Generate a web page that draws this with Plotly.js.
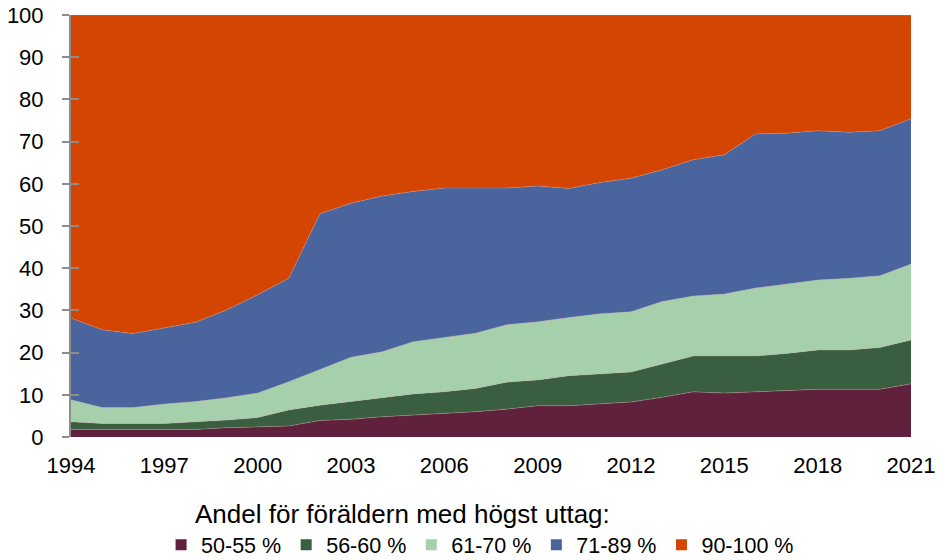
<!DOCTYPE html>
<html>
<head>
<meta charset="utf-8">
<script src="https://cdn.plot.ly/plotly-3.0.1.min.js"></script>
<style>html,body{margin:0;padding:0;background:#fff}#chart{width:938px;height:560px}</style>
</head>
<body>
<div id="chart"></div>
<script>
const years = [1994,1995,1996,1997,1998,1999,2000,2001,2002,2003,2004,2005,2006,2007,2008,2009,2010,2011,2012,2013,2014,2015,2016,2017,2018,2019,2020,2021];
const seriesNames = ["50-55 %","56-60 %","61-70 %","71-89 %","90-100 %"];
const s50_55  = [1.8,1.8,1.8,1.8,1.8,2.2,2.4,2.6,3.9,4.2,4.8,5.2,5.6,6.0,6.6,7.4,7.4,7.8,8.3,9.4,10.7,10.4,10.7,10.9,11.3,11.3,11.3,12.6];
const s56_60  = [1.8,1.4,1.4,1.4,1.8,1.8,2.2,3.8,3.6,4.2,4.5,5.0,5.1,5.5,6.4,6.1,7.1,7.1,7.1,7.9,8.5,8.8,8.5,8.9,9.3,9.3,9.9,10.4];
const s61_70  = [5.2,3.8,3.8,4.6,4.8,5.3,5.8,6.7,8.5,10.5,10.9,12.4,12.9,13.1,13.6,13.8,13.8,14.3,14.3,14.8,14.2,14.7,16.1,16.5,16.6,17.0,17.0,18.0];
const s71_89  = [19.4,18.4,17.5,18.0,18.8,20.8,23.3,24.5,36.9,36.5,36.9,35.6,35.4,34.4,32.4,32.2,30.6,31.1,31.6,31.2,32.3,33.0,36.5,35.7,35.4,34.6,34.4,34.4];
const s90_100 = [71.8,74.6,75.5,74.2,72.8,69.9,66.3,62.4,47.1,44.6,42.9,41.8,41.0,41.0,41.0,40.5,41.1,39.7,38.7,36.7,34.3,33.1,28.2,28.0,27.4,27.8,27.4,24.6];
const xTicks = [1994,1997,2000,2003,2006,2009,2012,2015,2018,2021];
const legendTitle = "Andel för föräldern med högst uttag:";

const colors = ["#60213C","#3A5E40","#A6D0AC","#4A659E","#D34500"];
const values = [s50_55, s56_60, s61_70, s71_89, s90_100];

const traces = [];
values.forEach((v, i) => {
  traces.push({
    type: "scatter", x: years, y: v, stackgroup: "one", mode: "lines",
    line: {width: 0.6, color: "rgba(200,160,160,0.6)"}, fillcolor: colors[i],
    name: seriesNames[i], showlegend: false, hoverinfo: "x+y+name"
  });
});
values.forEach((v, i) => {
  traces.push({
    type: "scatter", x: [null], y: [null], mode: "markers",
    marker: {symbol: "square", size: 11, color: colors[i]},
    name: seriesNames[i], showlegend: true
  });
});
traces.push({type:"scatter", x:[null], y:[null], yaxis:"y2", showlegend:false, hoverinfo:"skip"});

const font = {family: "Liberation Sans, Arial, sans-serif", color: "#000"};
const layout = {
  width: 938, height: 560,
  margin: {l: 71, r: 27, t: 15, b: 123, autoexpand: false},
  paper_bgcolor: "#fff", plot_bgcolor: "#fff",
  font: Object.assign({size: 22}, font),
  showlegend: true,
  xaxis: {
    range: [1994, 2021], tickvals: xTicks, ticktext: xTicks.map(String),
    showgrid: false, zeroline: false, showline: false, ticks: "",
    ticklabelstandoff: 13,
    tickfont: Object.assign({size: 22}, font), fixedrange: true
  },
  yaxis: {
    range: [0, 100], dtick: 10, showgrid: false, zeroline: false,
    showline: true, linecolor: "#8c8c8c", linewidth: 2,
    ticks: "outside", ticklen: 7, tickcolor: "#8c8c8c", tickwidth: 2,
    ticklabelstandoff: 14,
    tickfont: Object.assign({size: 22}, font), fixedrange: true
  },
  yaxis2: {
    overlaying: "y", side: "left", range: [0, 100], dtick: 10,
    showgrid: false, zeroline: false, showline: false,
    ticks: "inside", ticklen: 8, tickcolor: "#8c8c8c", tickwidth: 2,
    showticklabels: false, fixedrange: true
  },
  legend: {
    orientation: "h", x: 0.487, xanchor: "center", y: -0.207, yanchor: "top",
    traceorder: "normal", itemwidth: 30, tracegroupgap: 0,
    font: Object.assign({size: 21.5}, font)
  },
  annotations: [{
    text: legendTitle, xref: "paper", yref: "paper",
    x: (193 - 71) / 840, xanchor: "left", y: -0.183, yanchor: "middle",
    showarrow: false, font: Object.assign({size: 26}, font)
  }]
};
Plotly.newPlot("chart", traces, layout, {displayModeBar: false, staticPlot: true});
</script>
</body>
</html>
